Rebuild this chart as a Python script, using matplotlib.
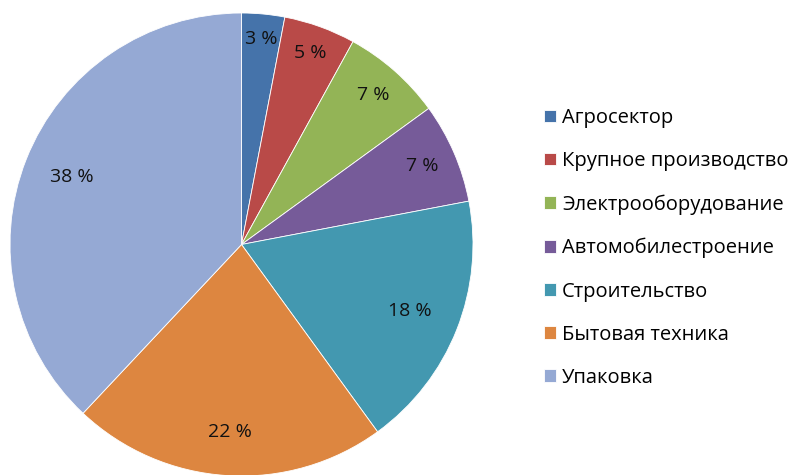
import matplotlib.pyplot as plt
import numpy as np

# Data
categories = ["Агросектор", "Крупное производство", "Электрооборудование",
              "Автомобилестроение", "Строительство", "Бытовая техника", "Упаковка"]
shares = [3, 5, 7, 7, 18, 22, 38]
colors = ["#4573AA", "#B94A48", "#93B456", "#765B99", "#4398B0", "#DD8640", "#95A9D4"]

# label distance from center for each slice (fraction of radius)
label_r = [0.89, 0.88, 0.86, 0.85, 0.78, 0.81, 0.79]

plt.rcParams['font.family'] = ['Open Sans', 'DejaVu Sans']

fig = plt.figure(figsize=(7.95, 4.75), dpi=100)
cx, cy, r = 241.5, 244.5, 231.5
ax = fig.add_axes([(cx - r) / 795, (475 - cy - r) / 475, 2 * r / 795, 2 * r / 475])

wedges, _ = ax.pie(shares, colors=colors, startangle=90, counterclock=False,
                   radius=1, wedgeprops=dict(linewidth=0.6, edgecolor="white"))
ax.set_xlim(-1, 1)
ax.set_ylim(-1, 1)
ax.set_aspect("equal")
ax.axis("off")

for w, v, lr in zip(wedges, shares, label_r):
    ang = np.deg2rad((w.theta1 + w.theta2) / 2)
    ax.text(lr * np.cos(ang), lr * np.sin(ang), f"{v} %", ha="center", va="center",
            fontsize=14, color="#111111")

fig.legend(wedges, categories, loc="upper left", bbox_to_anchor=(544 / 795, 1 - 108 / 475),
           frameon=False, fontsize=14.5, handlelength=0.6, handleheight=0.6,
           handletextpad=0.3, labelspacing=1.15, borderpad=0, borderaxespad=0)

fig.savefig("out.png", dpi=100)
